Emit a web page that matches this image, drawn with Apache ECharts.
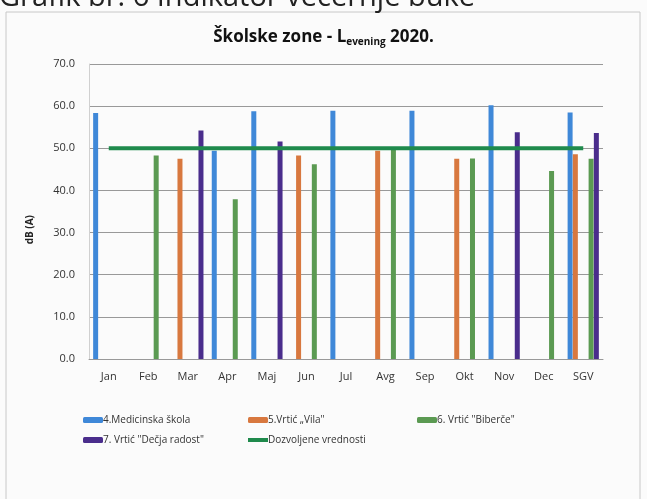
<!DOCTYPE html>
<html>
<head>
<meta charset="utf-8">
<script src="https://cdn.jsdelivr.net/npm/echarts@6/dist/echarts.min.js"></script>
<style>html,body{margin:0;padding:0;background:#fbfbfb;}#c{width:647px;height:499px;}</style>
</head>
<body>
<div id="c"></div>
<script>
const categories = ['Jan','Feb','Mar','Apr','Maj','Jun','Jul','Avg','Sep','Okt','Nov','Dec','SGV'];
const medicinska = [58.4, null, null, 49.4, 58.8, null, 58.9, null, 58.9, null, 60.2, null, 58.5];
const vila       = [null, null, 47.5, null, null, 48.3, null, 49.4, null, 47.5, null, null, 48.6];
const biberce    = [null, 48.3, null, 37.9, null, 46.2, null, 49.8, null, 47.6, null, 44.6, 47.5];
const decjaRadost= [null, null, 54.2, null, 51.6, null, null, null, null, null, 53.8, null, 53.6];
const emptySlot  = [null, null, null, null, null, null, null, null, null, null, null, null, null];
const dozvoljene = [50, 50, 50, 50, 50, 50, 50, 50, 50, 50, 50, 50, 50];
const yTicks = [0, 10, 20, 30, 40, 50, 60, 70];

const names = ['4.Medicinska škola', '5.Vrtić „Vila"', '6. Vrtić "Biberče"', '7. Vrtić "Dečja radost"', 'Dozvoljene vrednosti'];
const colors = ['#3f88d8', '#d8783f', '#5b9a52', '#4a2d8c', '#1f8a4c'];
const font = 'Open Sans';

function bar(name, data, color) {
  return { name, type: 'bar', data, barWidth: 5, barGap: '5%', barCategoryGap: '21%',
    itemStyle: { color }, silent: true };
}

const chart = echarts.init(document.getElementById('c'), null, { renderer: 'canvas' });
const legendBase = { itemWidth: 20, itemHeight: 6, itemGap: 2,
  textStyle: { fontFamily: font, fontSize: 10, color: '#333', padding: [0, 0, 0, -5] } };
chart.setOption({
  backgroundColor: '#fbfbfb',
  animation: false,
  title: {
    text: 'Školske zone - L{sub|evening} 2020.',
    left: 'center', top: 23,
    textStyle: { fontFamily: font, fontSize: 17, fontWeight: 'bold', color: '#111',
      rich: { sub: { fontFamily: font, fontSize: 10, fontWeight: 'bold', color: '#111', verticalAlign: 'bottom', padding: [9, 0, 0, 0] } } }
  },
  graphic: [
    { type: 'rect', shape: { x: 6, y: 12, width: 634, height: 500 }, style: { fill: 'none', stroke: '#c8c8c8', lineWidth: 1 }, silent: true },
    { type: 'text', left: -1, top: -17, style: { text: 'Grafik br. 6 Indikator večernje buke', fontFamily: font, fontSize: 29, fill: '#222' }, silent: true },
    { type: 'text', left: 25, top: 215, rotation: Math.PI / 2, style: { text: 'dB (A)', fontFamily: font, fontSize: 10, fontWeight: 'bold', fill: '#222', align: 'center', verticalAlign: 'middle' }, silent: true }
  ],
  legend: [
    Object.assign({ left: 78, top: 410, data: [names[0]] }, legendBase),
    Object.assign({ left: 243, top: 410, data: [names[1]] }, legendBase),
    Object.assign({ left: 412, top: 410, data: [names[2]] }, legendBase),
    Object.assign({ left: 78, top: 430, data: [names[3]] }, legendBase),
    Object.assign({ left: 243, top: 430, data: [{ name: names[4], icon: 'rect', itemStyle: { color: colors[4] } }] }, legendBase, { itemHeight: 4 })
  ],
  grid: { left: 89, right: 44, top: 64, bottom: 140 },
  xAxis: {
    type: 'category', data: categories,
    axisLine: { lineStyle: { color: '#999' } },
    axisTick: { show: false },
    axisLabel: { fontFamily: font, fontSize: 11, color: '#333', margin: 12 }
  },
  yAxis: {
    type: 'value', min: yTicks[0], max: yTicks[yTicks.length - 1], interval: 10,
    axisLine: { show: true, lineStyle: { color: '#d0d0d0' } },
    axisTick: { show: false },
    axisLabel: { fontFamily: font, fontSize: 11, color: '#333', margin: 14, formatter: v => v.toFixed(1) },
    splitLine: { lineStyle: { color: '#999', width: 1 } }
  },
  series: [
    bar(names[0], medicinska, colors[0]),
    bar(names[1], vila, colors[1]),
    bar('slot3', emptySlot, '#ffffff'),
    bar('slot4', emptySlot, '#ffffff'),
    bar(names[2], biberce, colors[2]),
    bar(names[3], decjaRadost, colors[3]),
    { name: names[4], type: 'line', data: dozvoljene, symbol: 'none', lineStyle: { color: colors[4], width: 4 }, itemStyle: { color: colors[4] }, silent: true }
  ]
});
</script>
</body>
</html>
